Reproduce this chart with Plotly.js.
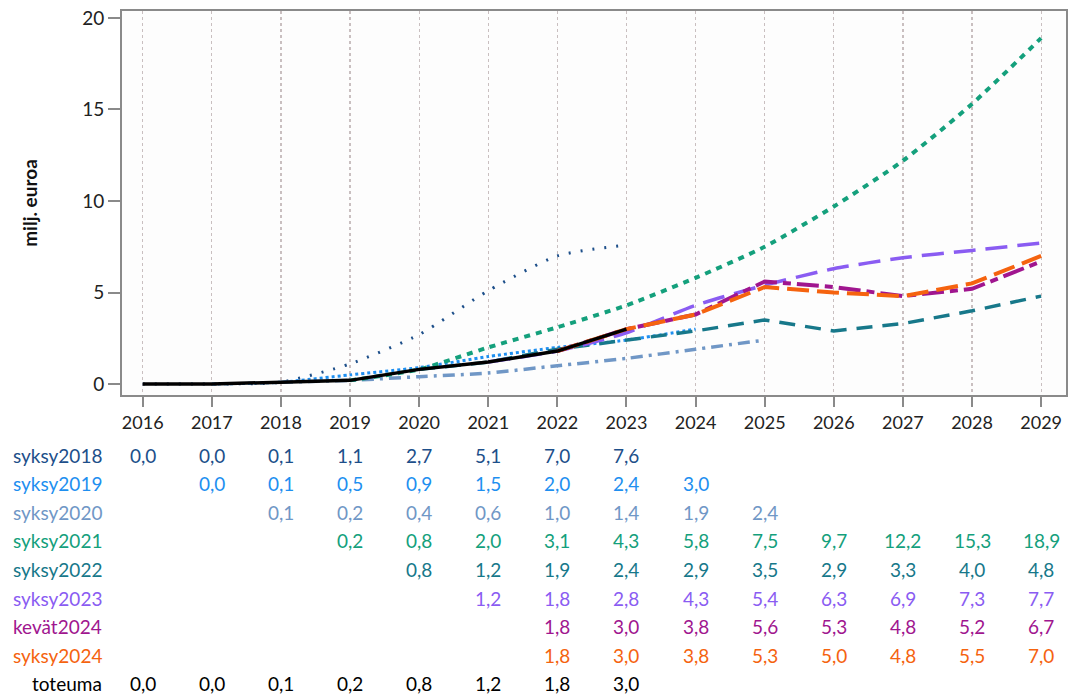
<!DOCTYPE html>
<html>
<head>
<meta charset="utf-8">
<script src="https://cdn.plot.ly/plotly-3.0.1.min.js"></script>
<style>html,body{margin:0;padding:0;background:#fff;}#chart{width:1069px;height:696px;}</style>
</head>
<body>
<div id="chart"></div>
<script>
const years = [2016,2017,2018,2019,2020,2021,2022,2023,2024,2025,2026,2027,2028,2029];

const seriesNames = ["syksy2018","syksy2019","syksy2020","syksy2021","syksy2022","syksy2023","kevät2024","syksy2024","toteuma"];

const syksy2018 = [0.0,0.0,0.1,1.1,2.7,5.1,7.0,7.6,null,null,null,null,null,null];
const syksy2019 = [null,0.0,0.1,0.5,0.9,1.5,2.0,2.4,3.0,null,null,null,null,null];
const syksy2020 = [null,null,0.1,0.2,0.4,0.6,1.0,1.4,1.9,2.4,null,null,null,null];
const syksy2021 = [null,null,null,0.2,0.8,2.0,3.1,4.3,5.8,7.5,9.7,12.2,15.3,18.9];
const syksy2022 = [null,null,null,null,0.8,1.2,1.9,2.4,2.9,3.5,2.9,3.3,4.0,4.8];
const syksy2023 = [null,null,null,null,null,1.2,1.8,2.8,4.3,5.4,6.3,6.9,7.3,7.7];
const kevat2024 = [null,null,null,null,null,null,1.8,3.0,3.8,5.6,5.3,4.8,5.2,6.7];
const syksy2024 = [null,null,null,null,null,null,1.8,3.0,3.8,5.3,5.0,4.8,5.5,7.0];
const toteuma   = [0.0,0.0,0.1,0.2,0.8,1.2,1.8,3.0,null,null,null,null,null,null];

const seriesData = [syksy2018,syksy2019,syksy2020,syksy2021,syksy2022,syksy2023,kevat2024,syksy2024,toteuma];
const colors = ["#1d4f8a","#1e8ff0","#7097c6","#14a07c","#17788a","#8a5cf2","#a0168f","#f5630f","#000000"];
const dashes = ["2px,10px","3px,3px","12px,6px,3px,6px","6px,6px","16px,10px","22px,10px","22px,6px,8px,6px","22px,8px","solid"];
const widths = [3,3,3.5,4,3.5,3.5,4,4,3.5];
const shapes = ["spline","spline","spline","spline","linear","spline","linear","linear","linear"];

const font = "Lato, 'Open Sans', sans-serif";

const traces = seriesData.map((d,i)=>{
  const xs=[], ys=[];
  d.forEach((v,j)=>{ if(v!==null){ xs.push(years[j]); ys.push(v);} });
  return {x:xs, y:ys, type:"scatter", mode:"lines", name:seriesNames[i],
    line:{color:colors[i], width:widths[i], dash:dashes[i], shape:shapes[i], smoothing:0.6},
    hoverinfo:"skip"};
});

const annotations = [];
const rowTop = 60, rowStep = 28.6;
seriesData.forEach((d,i)=>{
  annotations.push({xref:"paper", yref:"paper", x:0, y:0, xanchor:"right", yanchor:"middle",
    xshift:-18, yshift:-(rowTop + i*rowStep), text:seriesNames[i], showarrow:false,
    font:{family:font, size:19, color:colors[i]}});
  d.forEach((v,j)=>{
    if(v===null) return;
    annotations.push({xref:"x", yref:"paper", x:years[j], y:0, xanchor:"center", yanchor:"middle",
      yshift:-(rowTop + i*rowStep), text:v.toFixed(1).replace(".",","), showarrow:false,
      font:{family:font, size:19, color:colors[i]}});
  });
});

const layout = {
  width:1069, height:696,
  margin:{l:122, r:3, t:11, b:301},
  paper_bgcolor:"#ffffff", plot_bgcolor:"#fdfdfd",
  showlegend:false,
  font:{family:font, size:17, color:"#222"},
  xaxis:{range:[2015.7,2029.36], tickvals:years, ticktext:years.map(String),
    showgrid:true, gridcolor:"#c9bfc0", griddash:"dot", gridwidth:1.2,
    zeroline:false, showline:true, mirror:true, linecolor:"#8a8a8a", linewidth:2,
    ticks:"outside", ticklen:10, tickcolor:"#8a8a8a", tickwidth:2,
    tickfont:{family:font, size:18, color:"#222"}},
  yaxis:{range:[-0.6,20.38], tickvals:[0,5,10,15,20],
    showgrid:false, zeroline:false, showline:true, mirror:true, linecolor:"#8a8a8a", linewidth:2,
    ticks:"outside", ticklen:12, tickcolor:"#8a8a8a", tickwidth:2,
    tickfont:{family:font, size:19, color:"#222"},
    title:{text:"<b>milj. euroa</b>", font:{family:font, size:19, color:"#111"}, standoff:40}},
  annotations:annotations
};

Plotly.newPlot("chart", traces, layout, {displayModeBar:false, staticPlot:true});
</script>
</body>
</html>
